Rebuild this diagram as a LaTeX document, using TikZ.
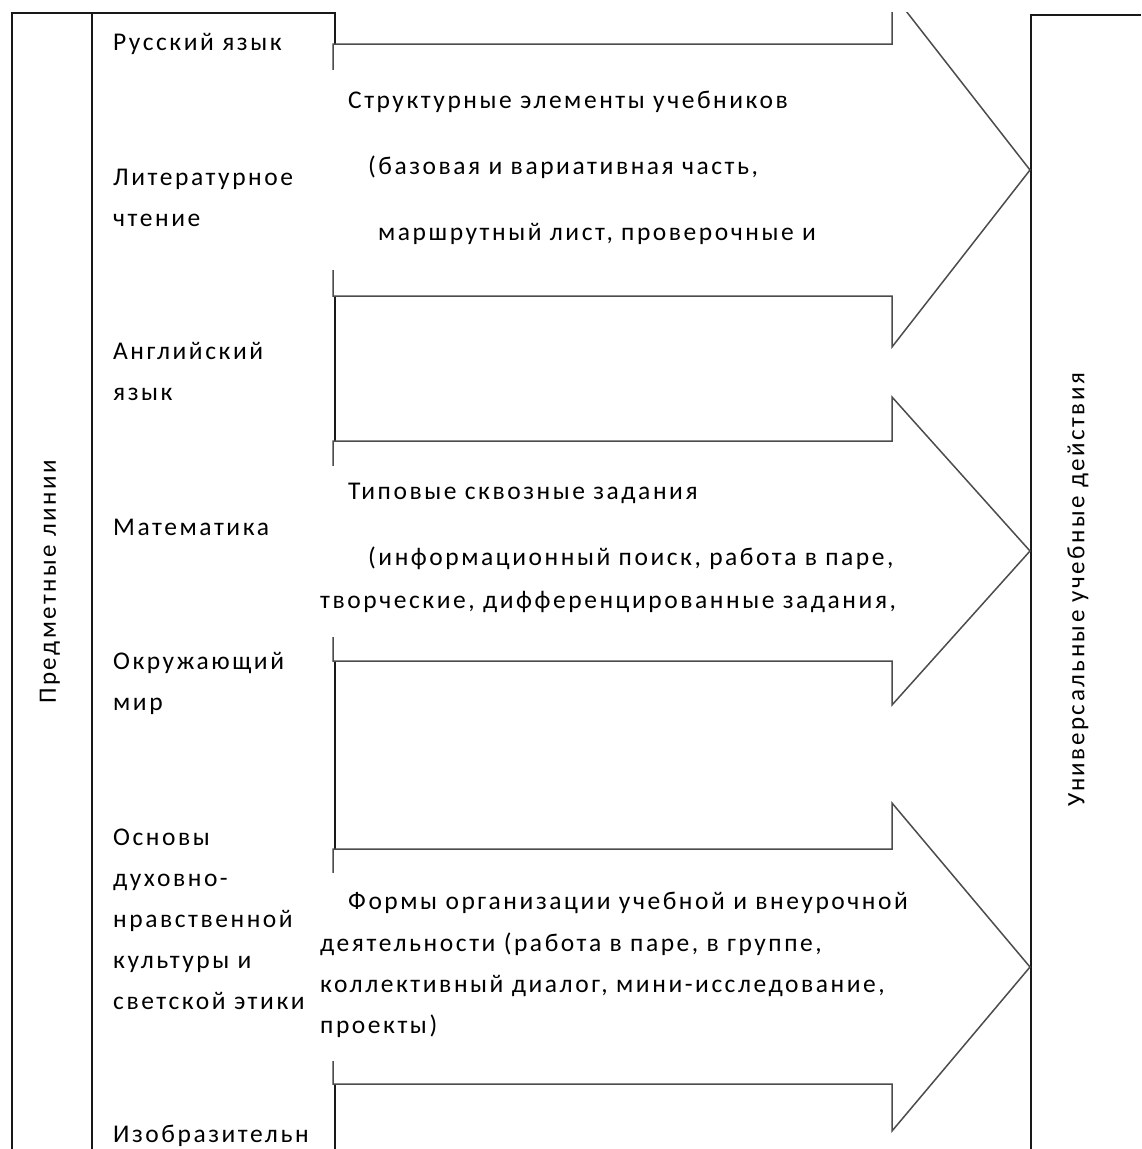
\documentclass[tikz,border=0pt]{standalone}
\usepackage{fontspec}
\setmainfont{Carlito}[LetterSpace=10]
\begin{document}
\begin{tikzpicture}[x=1pt,y=-1pt,
  frame/.style={draw=black!90, line width=1.8pt},
  arr/.style={draw=black!70, line width=1.5pt, fill=white, line join=miter},
  cover/.style={fill=white, draw=none},
  lbl/.style={anchor=base west, inner sep=0pt, font=\fontsize{25.5}{41}\selectfont, text=black},
  vlbl/.style={inner sep=0pt, font=\fontsize{25}{30}\selectfont, text=black, rotate=90}]
\useasboundingbox (0,0) rectangle (1141,1149);
\begin{scope}
\clip (0,12) rectangle (1141,1149);
% left frame
\draw[frame] (12,1149) -- (12,13) -- (335,13) -- (335,1149);
\draw[frame] (92,13) -- (92,1149);
% right frame
\draw[frame] (1141,15) -- (1031,15) -- (1031,1149);
% arrows
\draw[arr] (333,44) -- (892,44) -- (892,-7) -- (1030,170) -- (892,347) -- (892,296) -- (333,296) -- cycle;
\draw[arr] (333,441) -- (892,441) -- (892,397) -- (1030,551) -- (892,705) -- (892,661) -- (333,661) -- cycle;
\draw[arr] (333,849) -- (892,849) -- (892,803) -- (1030,967) -- (892,1131) -- (892,1084) -- (333,1084) -- cycle;
% text covers
\fill[cover] (326,70) rectangle (880,270);
\fill[cover] (314,466) rectangle (888,637);
\fill[cover] (314,873) rectangle (888,1061);
\end{scope}
% vertical labels
\node[vlbl] (pl) at (50,582) {Предметные линии};
\node[vlbl] (uud) at (1078,590) {Универсальные учебные действия};
% subject labels
\node[lbl] (s1) at (113,50) {Русский язык};
\node[lbl] (s2a) at (113,185) {Литературное};
\node[lbl] (s2b) at (113,226) {чтение};
\node[lbl] (s3a) at (113,359) {Английский};
\node[lbl] (s3b) at (113,400) {язык};
\node[lbl] (s4) at (113,535) {Математика};
\node[lbl] (s5a) at (113,669) {Окружающий};
\node[lbl] (s5b) at (113,710) {мир};
\node[lbl] (s6a) at (113,845) {Основы};
\node[lbl] (s6b) at (113,886) {духовно-};
\node[lbl] (s6c) at (113,927) {нравственной};
\node[lbl] (s6d) at (113,968) {культуры и};
\node[lbl] (s6e) at (113,1009) {светской этики};
\node[lbl] (s7) at (113,1142) {Изобразительн};
% arrow 1 text
\node[lbl] (a1a) at (348,108) {Структурные элементы учебников};
\node[lbl] (a1b) at (368,174) {(базовая и вариативная часть,};
\node[lbl] (a1c) at (378,240) {маршрутный лист, проверочные и};
% arrow 2 text
\node[lbl] (a2a) at (348,499) {Типовые сквозные задания};
\node[lbl] (a2b) at (368,565) {(информационный поиск, работа в паре,};
\node[lbl] (a2c) at (320,608) {творческие, дифференцированные задания,};
% arrow 3 text
\node[lbl] (a3a) at (348,909) {Формы организации учебной и внеурочной};
\node[lbl] (a3b) at (320,951) {деятельности (работа в паре, в группе,};
\node[lbl] (a3c) at (320,992) {коллективный диалог, мини-исследование,};
\node[lbl] (a3d) at (320,1033) {проекты)};
\end{tikzpicture}
\end{document}
